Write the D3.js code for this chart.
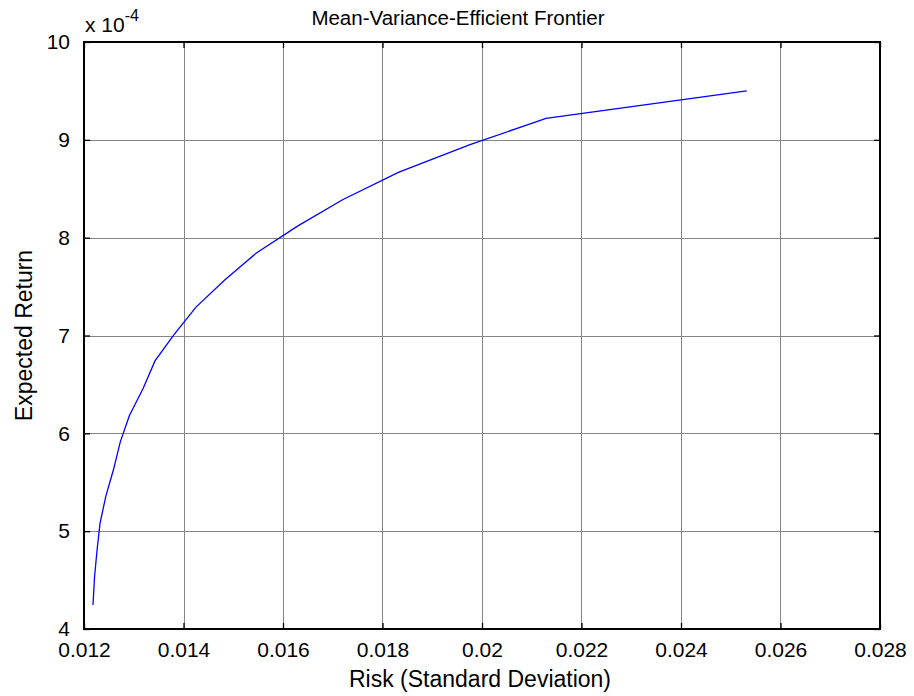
<!DOCTYPE html>
<html>
<head>
<meta charset="utf-8">
<script src="https://cdn.jsdelivr.net/npm/d3@7"></script>
<style>
  html, body { margin: 0; padding: 0; background: #fff; }
  svg { display: block; }
  text { font-family: "Liberation Sans", Arial, sans-serif; fill: #000; }
</style>
</head>
<body>
<svg id="chart" width="914" height="696"></svg>
<script>
// Efficient frontier portfolios: risk (std dev) and expected return (x 1e-4)
const risk = [0.012181, 0.012211, 0.012261, 0.012322, 0.012438, 0.012593, 0.012728, 0.012911,
              0.013190, 0.013427, 0.013809, 0.014251, 0.014834, 0.015457, 0.016300, 0.017206,
              0.018330, 0.019759, 0.021287, 0.025320];
const expReturn = [4.245, 4.526, 4.80, 5.08, 5.355, 5.63, 5.91, 6.18, 6.46, 6.74,
                   7.01, 7.29, 7.57, 7.84, 8.12, 8.39, 8.67, 8.95, 9.22, 9.50];
const xTicks = [0.012, 0.014, 0.016, 0.018, 0.02, 0.022, 0.024, 0.026, 0.028];
const xTickLabels = ["0.012", "0.014", "0.016", "0.018", "0.02", "0.022", "0.024", "0.026", "0.028"];
const yTicks = [4, 5, 6, 7, 8, 9, 10];

const svg = d3.select("#chart");
const L = 84, R = 880, T = 42, B = 629;

const x = d3.scaleLinear().domain([0.012, 0.028]).range([L, R]);
const y = d3.scaleLinear().domain([4, 10]).range([B, T]);

// grid
const grid = svg.append("g").attr("stroke", "#858585").attr("stroke-width", 1);
grid.selectAll("line.gx").data(xTicks.slice(1, -1)).join("line")
  .attr("x1", d => Math.round(x(d)) + 0.5).attr("x2", d => Math.round(x(d)) + 0.5)
  .attr("y1", T).attr("y2", B);
grid.selectAll("line.gy").data(yTicks.slice(1, -1)).join("line")
  .attr("y1", d => Math.round(y(d)) + 0.5).attr("y2", d => Math.round(y(d)) + 0.5)
  .attr("x1", L).attr("x2", R);

// axes with inward ticks on all four sides
const tick = 6;
const axB = d3.axisBottom(x).tickValues(xTicks).tickSize(-tick).tickPadding(13)
  .tickFormat((d, i) => xTickLabels[i]);
const axT = d3.axisTop(x).tickValues(xTicks).tickSize(-tick).tickFormat("");
const axL = d3.axisLeft(y).tickValues(yTicks).tickSize(-tick).tickPadding(tick + 8)
  .tickFormat(d => d);
const axR = d3.axisRight(y).tickValues(yTicks).tickSize(-tick).tickFormat("");

function style(g) {
  g.select(".domain").remove();
  g.selectAll(".tick line").attr("stroke", "#000").attr("stroke-width", 1.3);
  g.selectAll(".tick text").attr("font-size", 21).attr("font-family", "Liberation Sans, Arial, sans-serif");
}
svg.append("g").attr("transform", `translate(0,${B})`).call(axB).call(style);
svg.append("g").attr("transform", `translate(0,${T})`).call(axT).call(style);
svg.append("g").attr("transform", `translate(${L},0)`).call(axL).call(style);
svg.append("g").attr("transform", `translate(${R},0)`).call(axR).call(style);

// box
svg.append("rect").attr("x", L).attr("y", T).attr("width", R - L).attr("height", B - T)
  .attr("fill", "none").attr("stroke", "#000").attr("stroke-width", 2);

// frontier line
const line = d3.line().x((d, i) => x(risk[i])).y(d => y(d));
svg.append("path").datum(expReturn).attr("d", line)
  .attr("fill", "none").attr("stroke", "#0000ff").attr("stroke-width", 1.3);

// exponent marker
const ex = svg.append("text").attr("x", L + 1).attr("y", 32).attr("font-size", 21);
ex.append("tspan").text("x 10");
ex.append("tspan").attr("dy", -11).attr("font-size", 16).text("-4");

// title and axis labels
svg.append("text").attr("x", (L + R) / 2 - 24).attr("y", 25).attr("text-anchor", "middle")
  .attr("font-size", 20.5).text("Mean-Variance-Efficient Frontier");
svg.append("text").attr("x", (L + R) / 2 - 2).attr("y", 687).attr("text-anchor", "middle")
  .attr("font-size", 23).text("Risk (Standard Deviation)");
svg.append("text").attr("transform", `translate(32,${(T + B) / 2}) rotate(-90)`)
  .attr("text-anchor", "middle").attr("font-size", 23).text("Expected Return");
</script>
</body>
</html>
